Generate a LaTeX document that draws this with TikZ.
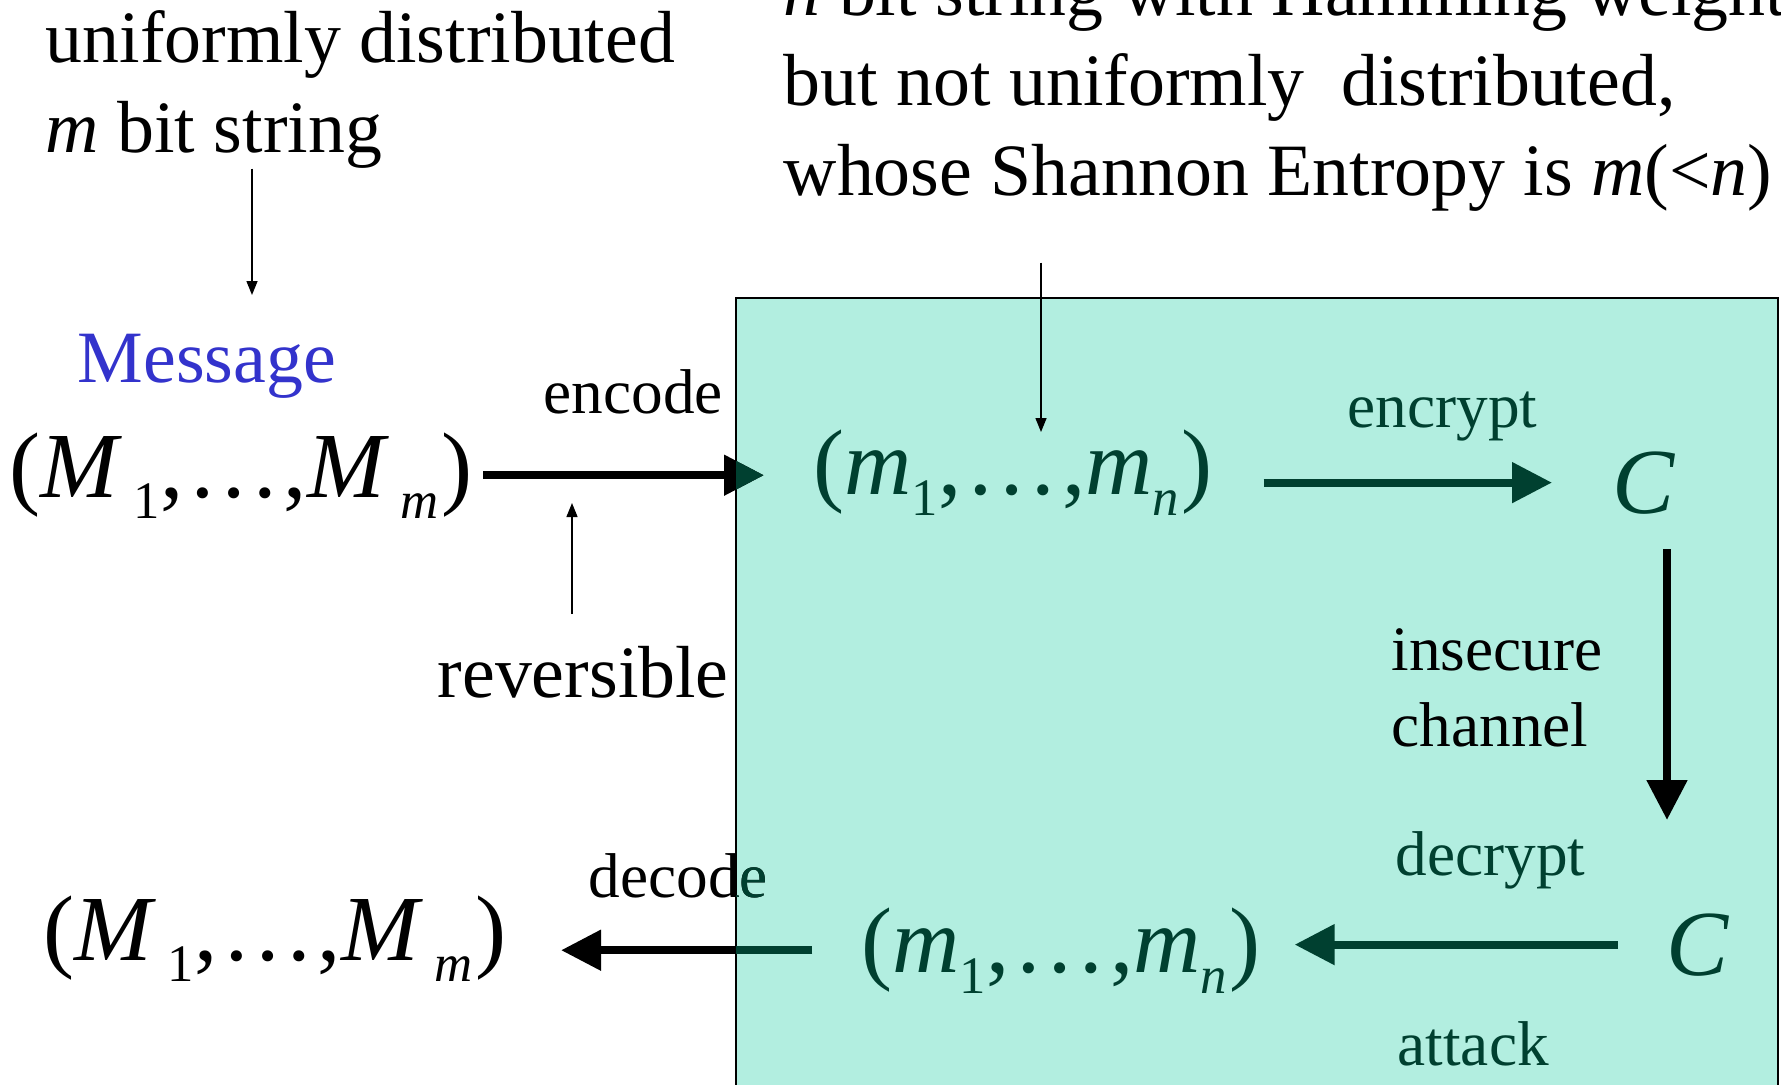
\documentclass[tikz,border=0pt]{standalone}
\usepackage{fontspec}
\setmainfont{Liberation Serif}
\usepackage{tikz}
\usetikzlibrary{arrows.meta,positioning}

\definecolor{mint}{RGB}{178,238,224}
\definecolor{deepgreen}{RGB}{0,64,48}
\definecolor{msgblue}{RGB}{51,51,204}

% lowered subscript and (x_1,...,x_k) tuples as the equation editor sets them
\newcommand{\lowsub}[1]{\raisebox{-0.21cm}{\fontsize{15}{15}\selectfont #1}}
\newcommand{\tuple}[3]{(\textit{#1}\lowsub{#2},\kern0.04em\ldots\kern0.04em,\textit{#1}\lowsub{\textit{#3}}\kern0.03em)}

\begin{document}
\begin{tikzpicture}[
    txt/.style={
        inner sep=0pt,
        anchor=base west,
        align=left,
        font=\fontsize{21}{25.5}\selectfont
    },
    lbl/.style={
        inner sep=0pt,
        anchor=base west,
        align=left,
        font=\fontsize{18}{21.6}\selectfont
    },
    seq/.style={
        inner sep=0pt,
        anchor=base west,
        font=\fontsize{26.5}{30}\selectfont
    },
    fatarrow/.style={
        -{Triangle[length=4mm,width=3.9mm]},
        line width=2.3pt
    },
    thinarrow/.style={
        -{Triangle[length=1.4mm,width=1.1mm]},
        line width=0.4pt
    }
]
\useasboundingbox (0,0) rectangle (17.81,-10.84);

% Shaded region: the coded string and the channel
\coordinate (boxNW) at (7.36,-2.98);
\coordinate (boxSE) at (17.78,-11.2);
\draw[fill=mint, line width=0.5pt] (boxNW) rectangle (boxSE);

% Remarks on top (base = last line)
\node[txt] at (0.45,-1.52) (uniform) {uniformly distributed\\\textit{m} bit string};
\node[txt] at (7.83,-1.95) (hamming)
    {\textit{n} bit string with Hamming weight \textit{m}\\but not uniformly\ \ distributed,\\whose Shannon Entropy is \textit{m}(<\textit{n})};

% Row 1: message, encoding, encryption
\node[txt, text=msgblue] at (0.77,-3.82) (message) {Message};
\node[seq] at (0.09,-4.97) (msgtop) {\tuple{M\,}{1}{m}};
\node[seq, text=deepgreen] at (8.13,-4.94) (codetop) {\tuple{m}{1}{n}};
\node[seq, text=deepgreen] at (16.12,-5.13) (ctop) {\textit{C}};

\node[lbl] at (5.43,-4.13) (encode) {encode};
\node[txt] at (4.37,-6.97) (reversible) {reversible};
\node[lbl, text=deepgreen] at (13.47,-4.27) (encrypt) {encrypt};
\node[lbl] at (13.91,-7.46) (channel) {insecure\\channel};

% Row 2: decryption, decoding
\node[seq] at (0.43,-9.60) (msgbot) {\tuple{M\,}{1}{m}};
\node[seq, text=deepgreen] at (8.61,-9.72) (codebot) {\tuple{m}{1}{n}};
\node[seq, text=deepgreen] at (16.66,-9.75) (cbot) {\textit{C}};

\node[lbl] at (5.88,-8.97) (decode) {decode};
\node[lbl, text=deepgreen] at (13.95,-8.75) (decrypt) {decrypt};
\node[lbl, text=deepgreen] at (13.97,-10.65) (attack) {attack};

% Pointers from the remarks
\coordinate (uniTip) at (2.52,-2.95);
\coordinate (hamTip) at (10.41,-4.32);
\coordinate (revTip) at (5.72,-5.03);
\draw[thinarrow] (uniform.south -| uniTip) -- (uniTip);
\draw[thinarrow, shorten <=0.51cm] (hamming.south -| hamTip) -- (hamTip);
\draw[thinarrow, shorten <=0.31cm] (reversible.north -| revTip) -- (revTip);

% Arrows
\draw[fatarrow, shorten <=0.1cm, shorten >=0.49cm] (msgtop.east) -- (codetop.west |- msgtop.east);
\draw[fatarrow, deepgreen, shorten <=0.5cm, shorten >=0.6cm] (codetop.east |- ctop.west) -- (ctop.west);
\coordinate (chanTop) at (16.67,-5.49);
\coordinate (chanBot) at (16.67,-8.20);
\draw[fatarrow] (chanTop) -- (chanBot);
\draw[fatarrow, deepgreen, shorten <=0.48cm, shorten >=0.33cm] (cbot.west) -- (codebot.east |- cbot.west);
\draw[fatarrow, shorten <=0.49cm, shorten >=0.54cm] (codebot.west) -- (msgbot.east |- codebot.west);

% Parts over the shaded region take its dark green
\begin{scope}
    \clip (boxNW) rectangle (boxSE);
    \draw[fatarrow, deepgreen, shorten <=0.1cm, shorten >=0.49cm] (msgtop.east) -- (codetop.west |- msgtop.east);
    \draw[fatarrow, deepgreen, shorten <=0.49cm, shorten >=0.54cm] (codebot.west) -- (msgbot.east |- codebot.west);
    \node[lbl, text=deepgreen] at (5.88,-8.97) (decodein) {decode};
\end{scope}

\end{tikzpicture}
\end{document}
